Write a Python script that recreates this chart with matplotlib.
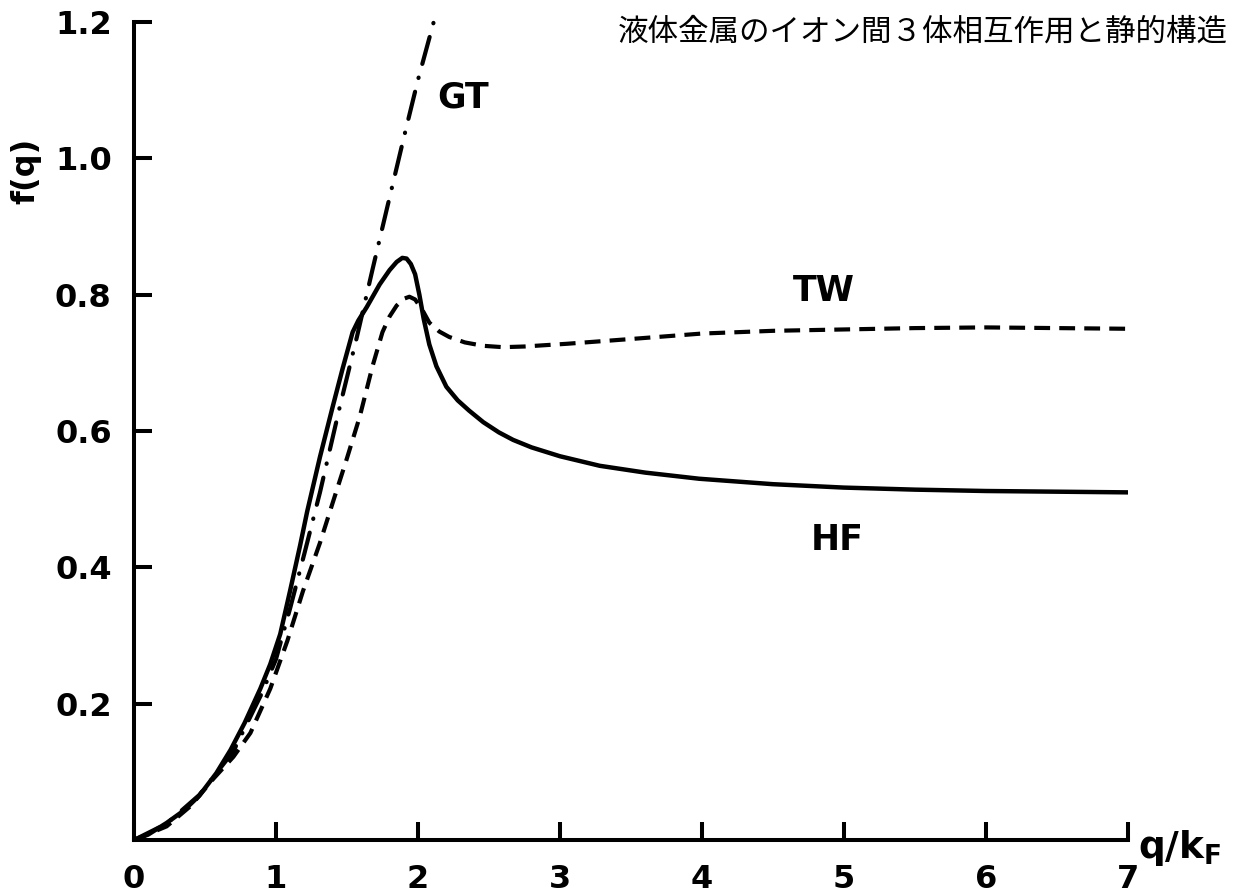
import matplotlib
matplotlib.use("Agg")
import matplotlib.pyplot as plt

# curves, f(q) against q/kF
hf_q = [0, 0.1, 0.23, 0.35, 0.46, 0.58, 0.68, 0.78, 0.89, 0.96, 1.03, 1.1,
        1.17, 1.22, 1.31, 1.4, 1.47, 1.54, 1.58, 1.64, 1.73, 1.8, 1.85, 1.89,
        1.92, 1.95, 1.98, 2.01, 2.04, 2.08, 2.13, 2.2, 2.28, 2.36, 2.46, 2.57,
        2.67, 2.8, 3.0, 3.28, 3.6, 3.98, 4.5, 5.0, 5.5, 6.0, 6.5, 7.0]
hf_f = [0, 0.008, 0.025, 0.043, 0.065, 0.098, 0.132, 0.172, 0.222, 0.258,
        0.302, 0.366, 0.432, 0.482, 0.562, 0.636, 0.692, 0.745, 0.762, 0.782,
        0.815, 0.836, 0.848, 0.854, 0.853, 0.845, 0.83, 0.80, 0.765, 0.727,
        0.695, 0.665, 0.645, 0.63, 0.613, 0.598, 0.587, 0.576, 0.563, 0.549,
        0.539, 0.53, 0.522, 0.517, 0.514, 0.512, 0.511, 0.51]

tw_q = [0, 0.23, 0.4, 0.56, 0.7, 0.82, 0.96, 1.08, 1.19, 1.31, 1.4, 1.5,
        1.59, 1.68, 1.75, 1.8, 1.85, 1.9, 1.94, 1.98, 2.03, 2.08, 2.15, 2.22,
        2.33, 2.46, 2.6, 2.75, 3.05, 3.5, 4.0, 4.5, 5.0, 5.5, 6.0, 6.5, 7.0]
tw_f = [0, 0.02, 0.05, 0.09, 0.122, 0.157, 0.222, 0.292, 0.365, 0.436, 0.495,
        0.56, 0.621, 0.695, 0.745, 0.768, 0.784, 0.794, 0.797, 0.793, 0.778,
        0.759, 0.746, 0.738, 0.73, 0.725, 0.723, 0.724, 0.728, 0.735, 0.743,
        0.747, 0.749, 0.751, 0.752, 0.751, 0.75]

gt_q = [0, 0.23, 0.46, 0.7, 0.9, 1.0, 1.1, 1.2, 1.31, 1.45, 1.57, 1.68, 1.78,
        1.9, 2.0, 2.12]
gt_f = [0, 0.024, 0.066, 0.13, 0.215, 0.265, 0.34, 0.42, 0.51, 0.636, 0.738,
        0.837, 0.925, 1.03, 1.115, 1.207]

x_ticks = [0, 1, 2, 3, 4, 5, 6, 7]
y_ticks = [0.2, 0.4, 0.6, 0.8, 1.0, 1.2]
y_labels = ["0.2", "0.4", "0.6", "0.8", "1.0", "1.2"]

fig = plt.figure(figsize=(12.38, 8.96), dpi=100)
ax = fig.add_axes([0.1082, 0.0625, 0.8029, 0.9129])

ax.plot(hf_q, hf_f, color="black", lw=3.2, solid_capstyle="round",
        solid_joinstyle="round")
ax.plot(tw_q, tw_f, color="black", lw=3.0, dashes=(3.8, 2.2))
ax.plot(gt_q, gt_f, color="black", lw=3.0, dashes=(6.7, 3.4, 0.1, 3.4),
        dash_capstyle="round", clip_on=False)

ax.set_xlim(0, 7)
ax.set_ylim(0, 1.2)
ax.set_xticks(x_ticks)
ax.set_xticklabels([str(v) for v in x_ticks], fontweight="bold")
ax.set_yticks(y_ticks)
ax.set_yticklabels(y_labels, fontweight="bold")

for side in ["top", "right"]:
    ax.spines[side].set_visible(False)
for side in ["left", "bottom"]:
    ax.spines[side].set_linewidth(2.9)

ax.tick_params(axis="both", direction="in", length=13, width=2.9,
               labelsize=23)
ax.tick_params(axis="x", pad=17)
ax.tick_params(axis="y", pad=16)

ax.text(2.315, 1.09, "GT", fontsize=25, fontweight="bold", ha="center",
        va="center")
ax.text(4.856, 0.806, "TW", fontsize=25, fontweight="bold", ha="center",
        va="center")
ax.text(4.954, 0.44, "HF", fontsize=25, fontweight="bold", ha="center",
        va="center")

ax.text(7.07, -0.012, r"q/k$_{\bf F}$", fontsize=27, fontweight="bold",
        ha="left", va="center", clip_on=False)
fig.text(0.021, 0.809, "f(q)", fontsize=23, fontweight="bold", rotation=90,
         ha="center", va="center")

fig.text(0.992, 0.964, "液体金属のイオン間３体相互作用と静的構造", fontsize=22,
         ha="right", va="center", family=["Noto Sans CJK JP", "DejaVu Sans"])

fig.savefig("out.png", dpi=100)
